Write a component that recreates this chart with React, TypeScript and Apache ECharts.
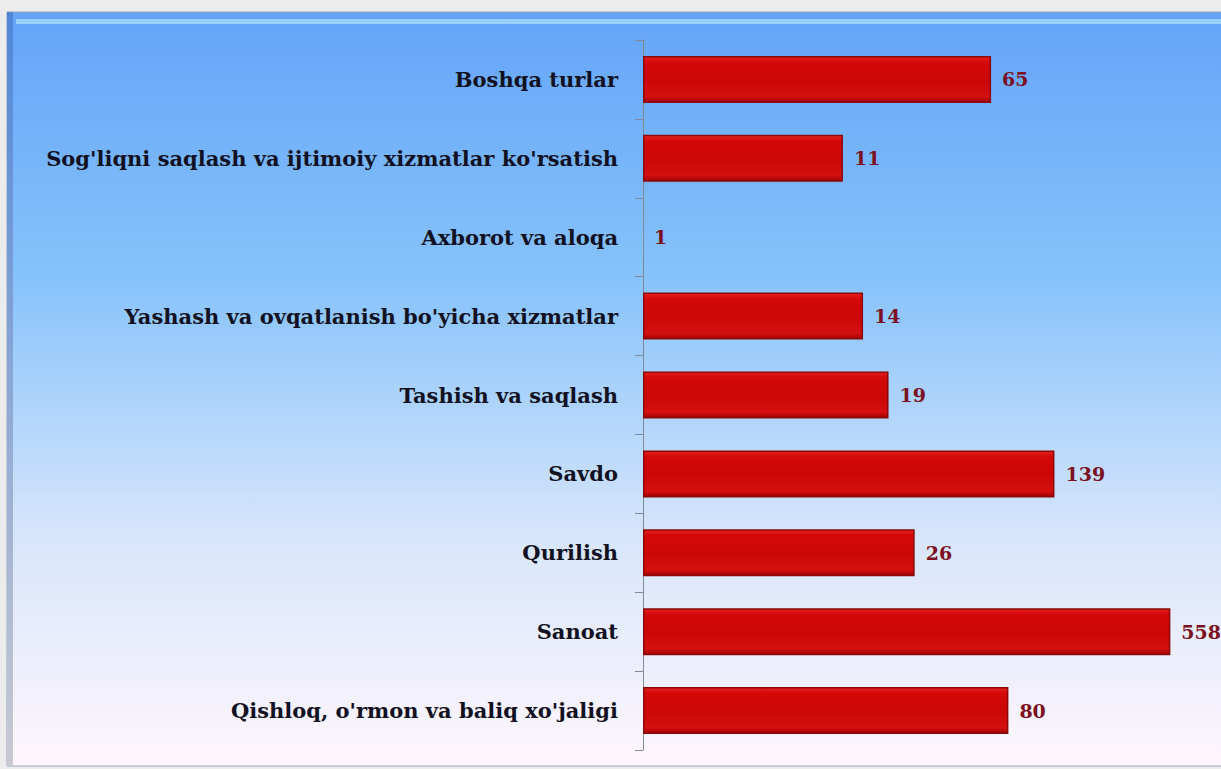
import React, { useEffect, useRef } from "react";
import * as echarts from "echarts";

const categories = [
  "Qishloq, o'rmon va baliq xo'jaligi",
  "Sanoat",
  "Qurilish",
  "Savdo",
  "Tashish va saqlash",
  "Yashash va ovqatlanish bo'yicha xizmatlar",
  "Axborot va aloqa",
  "Sog'liqni saqlash va ijtimoiy xizmatlar ko'rsatish",
  "Boshqa turlar",
];
const values = [80, 558, 26, 139, 19, 14, 1, 11, 65];

export default function App() {
  const ref = useRef<HTMLDivElement>(null);
  useEffect(() => {
    const chart = echarts.init(ref.current!, null, { renderer: "svg" });
    chart.setOption({
      animation: false,
      backgroundColor: "#ececec",
      graphic: [
        {
          type: "rect",
          z: -10,
          shape: { x: 7, y: 12, width: 1220, height: 754 },
          style: {
            fill: new echarts.graphic.LinearGradient(0, 0, 0, 1, [
              { offset: 0, color: "#64a4f8" },
              { offset: 0.35, color: "#86c2fb" },
              { offset: 0.7, color: "#d8e6fb" },
              { offset: 1, color: "#fff6fd" },
            ]),
            stroke: "#9aa6b8",
            lineWidth: 1,
          },
        },
        {
          type: "rect",
          z: -9,
          shape: { x: 16, y: 19, width: 1210, height: 5 },
          style: { fill: "#96d0fb" },
        },
        {
          type: "rect",
          z: -9,
          shape: { x: 7, y: 12, width: 6, height: 754 },
          style: {
            fill: new echarts.graphic.LinearGradient(0, 0, 0, 1, [
              { offset: 0, color: "#4f86d8" },
              { offset: 1, color: "#c9c9d2" },
            ]),
          },
        },
      ],
      grid: { left: 643, right: 2, top: 40, bottom: 19, containLabel: false },
      xAxis: {
        type: "log",
        logBase: 10,
        min: 1,
        max: 1000,
        show: false,
      },
      yAxis: {
        type: "category",
        data: categories,
        axisLine: { show: true, lineStyle: { color: "#7f8a99", width: 1 } },
        axisTick: { show: true, length: 8, lineStyle: { color: "#7f8a99" } },
        axisLabel: {
          margin: 25,
          color: "#111122",
          fontFamily: "DejaVu Serif",
          fontWeight: "bold",
          fontSize: 21,
        },
        splitLine: { show: false },
      },
      series: [
        {
          type: "bar",
          data: values.map((v) =>
            v <= 1 ? { value: v, itemStyle: { borderWidth: 0 } } : v
          ),
          barWidth: 47,
          itemStyle: {
            color: new echarts.graphic.LinearGradient(0, 0, 0, 1, [
              { offset: 0, color: "#e82020" },
              { offset: 0.12, color: "#d40808" },
              { offset: 0.5, color: "#cc0606" },
              { offset: 0.88, color: "#d41010" },
              { offset: 1, color: "#a00000" },
            ]),
            borderColor: "#8a0a0a",
            borderWidth: 1.5,
          },
          label: {
            show: true,
            position: "right",
            distance: 11,
            color: "#7a1020",
            fontFamily: "DejaVu Serif",
            fontWeight: "bold",
            fontSize: 19,
          },
        },
      ],
    });
    return () => chart.dispose();
  }, []);
  return (
    <div
      ref={ref}
      style={{ position: "fixed", left: 0, top: 0, width: 1221, height: 769 }}
    />
  );
}
